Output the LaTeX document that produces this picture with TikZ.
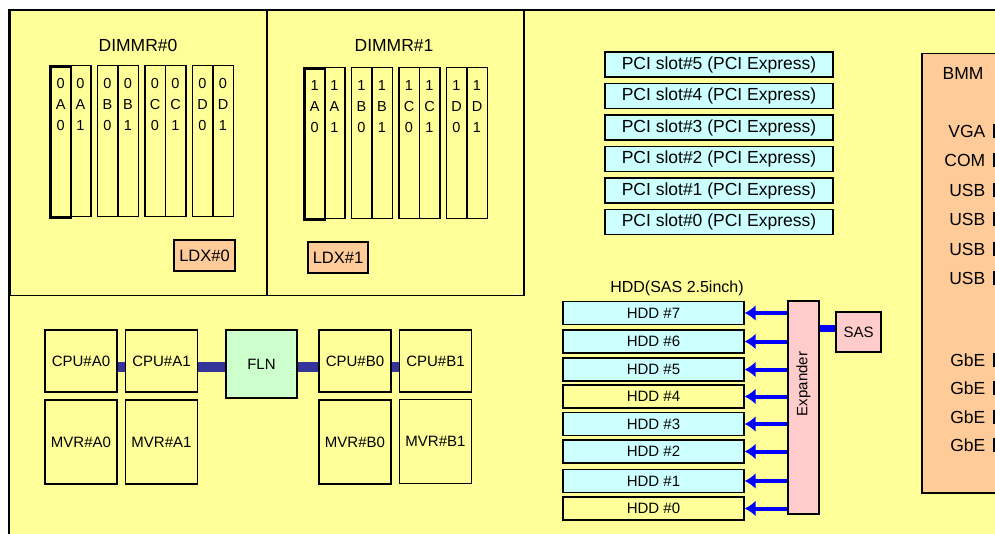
\documentclass[tikz,border=0pt]{standalone}
\usepackage{fontspec}
\setmainfont{Liberation Sans}
\usetikzlibrary{arrows.meta}
\definecolor{bgyellow}{HTML}{FFFF99}
\definecolor{ldxpeach}{HTML}{FFCC99}
\definecolor{slotcyan}{HTML}{CCFFFF}
\definecolor{flngreen}{HTML}{CCFFCC}
\definecolor{exppink}{HTML}{FFCCCC}
\definecolor{qpiblue}{HTML}{333399}
\definecolor{sasblue}{HTML}{0000FF}

\begin{document}
\begin{tikzpicture}[x=1pt, y=-1pt,
    frame/.style={line width=2pt},
    region/.style={draw, line width=1.5pt, anchor=north west, inner sep=0pt},
    title/.style={inner sep=0pt, font=\fontsize{17.5}{20}\selectfont},
    dimm/.style={draw, anchor=north west, inner sep=0pt, minimum width=20.5pt, minimum height=151pt},
    dimmtext/.style={anchor=north, inner sep=0pt, align=center, font=\fontsize{14.5}{21}\selectfont},
    ldxbox/.style={draw, line width=1.3pt, fill=ldxpeach, inner sep=0pt, minimum width=61pt, minimum height=31pt, font=\fontsize{16.5}{19}\selectfont},
    pcibox/.style={draw, line width=1.4pt, fill=slotcyan, inner sep=0pt, minimum width=228pt, minimum height=25pt, font=\fontsize{17.5}{20}\selectfont},
    cpubox/.style={draw, line width=1.3pt, inner sep=0pt, minimum width=72pt, minimum height=62pt, font=\fontsize{15}{18}\selectfont},
    mvrbox/.style={cpubox, minimum height=84pt},
    hddbox/.style={draw, line width=1.3pt, inner sep=0pt, minimum width=181pt, minimum height=23pt, font=\fontsize{15}{18}\selectfont},
    portbox/.style={fill=black, anchor=west, inner sep=0pt, minimum width=2pt, minimum height=14pt},
    bmmtext/.style={inner sep=0pt, font=\fontsize{17.5}{20}\selectfont},
    qpilink/.style={qpiblue, line width=10pt},
    saslink/.style={sasblue, line width=7pt},
    hddarrow/.style={sasblue, line width=4pt, -{Latex[length=11pt,width=16pt]}}
]
    \useasboundingbox (0,0) rectangle (995,534);
    \clip (0,0) rectangle (995,534);
    \fill[bgyellow] (9,10) rectangle (995,534);
    \draw[frame] (9,534) -- (9,10) -- (995,10);

    \node[region, minimum width=257pt, minimum height=285pt] (dimmr0) at (9,10) {};
    \node[region, minimum width=257pt, minimum height=285pt] (dimmr1) at (266,10) {};
    \foreach \g/\gx/\gy/\tx in {0/49/65/138, 1/303/67/394}
    {
        \node[title] (dimmrlbl\g) at (\tx,45) {DIMMR\#\g};
        \foreach \c [count=\k from 0] in {A,B,C,D}
        {
            \foreach \s in {0,1}
            {
                \pgfmathsetmacro{\sx}{\gx+47.5*\k+20.5*\s}
                \pgfmathsetmacro{\lw}{(\k==0 && \s==0) ? 2.8 : 1.5}
                \node[dimm, line width=\lw pt] (s\g\c\s) at (\sx,\gy) {};
                \node[dimmtext] (t\g\c\s) at ([yshift=-13pt]s\g\c\s.north) {\g\\\c\\\s};
            }
        }
    }
    \node[ldxbox] (ldx0) at (204.5,255.5) {LDX\#0};
    \node[ldxbox, minimum width=60pt] (ldx1) at (338,257.5) {LDX\#1};

    \foreach \n in {0,...,5}
    {
        \pgfmathsetmacro{\py}{222-31.5*\n}
        \node[pcibox] (pci\n) at (719,\py) {PCI slot\#\n\ (PCI Express)};
    }

    \node[region, fill=ldxpeach, minimum width=90pt, minimum height=439pt] (bmm) at (921,53) {};
    \node[bmmtext] (bmmlbl) at (963,73) {BMM};
    \foreach \p/\py [count=\i] in {VGA/131, COM/160, USB/190, USB/219, USB/249, USB/278, GbE/360, GbE/388, GbE/417, GbE/445}
    {
        \node[portbox, label={[bmmtext, label distance=7pt]left:\p}] (port\i) at (992.5,\py) {};
    }

    \node[cpubox] (cpua0) at (81,361) {CPU\#A0};
    \node[cpubox] (cpua1) at (161.5,361) {CPU\#A1};
    \node[cpubox, fill=flngreen, minimum width=71pt, minimum height=68pt] (fln) at (261.5,364) {FLN};
    \node[cpubox] (cpub0) at (355,361) {CPU\#B0};
    \node[cpubox] (cpub1) at (435.5,361) {CPU\#B1};
    \node[mvrbox] (mvra0) at (81,442) {MVR\#A0};
    \node[mvrbox] (mvra1) at (161.5,442) {MVR\#A1};
    \node[mvrbox] (mvrb0) at (355,442) {MVR\#B0};
    \node[mvrbox] (mvrb1) at (435.5,441.5) {MVR\#B1};
    \coordinate (qpiy) at (0,367);
    \foreach \a/\b in {cpua0/cpua1, cpua1/fln, fln/cpub0, cpub0/cpub1}
        \draw[qpilink] (\a.east |- qpiy) -- (\b.west |- qpiy);

    \node[title, font=\fontsize{16}{19}\selectfont] (hddlbl) at (677,288) {HDD(SAS 2.5inch)};
    \foreach \n/\hy/\hc in {7/313/slotcyan, 6/341.5/slotcyan, 5/369.5/slotcyan, 4/396.5/bgyellow, 3/424/slotcyan, 2/451.5/slotcyan, 1/481/slotcyan, 0/508.5/bgyellow}
    {
        \node[hddbox, fill=\hc] (hdd\n) at (653.5,\hy) {HDD \#\n};
    }
    \node[cpubox, fill=exppink, minimum width=31pt, minimum height=213pt] (expander) at (803.5,407.5) {};
    \node[rotate=90, inner sep=0pt, font=\fontsize{15}{18}\selectfont] (explbl) at (803.5,384) {Expander};
    \node[cpubox, fill=exppink, minimum width=45pt, minimum height=40pt] (sas) at (858.5,332) {SAS};
    \foreach \n in {0,...,7}
        \draw[hddarrow] (hdd\n.east -| expander.west) -- (hdd\n.east);
    \coordinate (sasport) at ([yshift=3.5pt]sas.west);
    \draw[saslink] (sasport -| expander.east) -- (sasport);
\end{tikzpicture}
\end{document}
